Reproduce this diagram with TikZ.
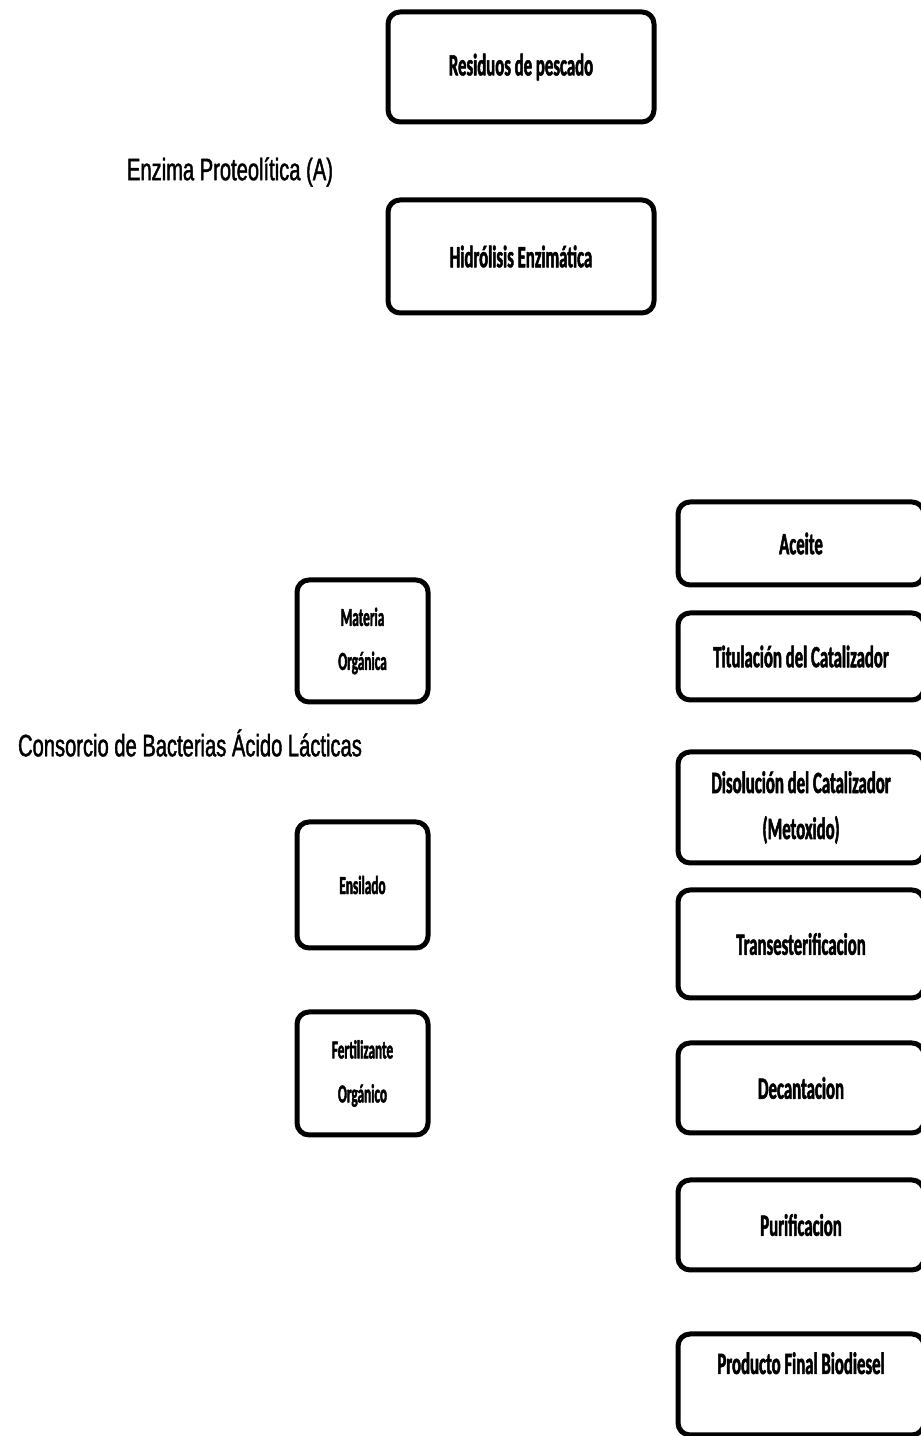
\documentclass[tikz,border=0pt]{standalone}
\usepackage{fontspec}
\usepackage{tikz}
\usetikzlibrary{positioning}

\newfontfamily\boxfont[FakeStretch=0.54,FakeBold=1.6]{Carlito}
\newfontfamily\smallboxfont[FakeStretch=0.51,FakeBold=1.6]{Carlito}
\newfontfamily\labelfont[FakeStretch=0.65,FakeBold=1.4]{Liberation Sans}

\tikzset{
  caja/.style={draw=black,line width=5bp,rounded corners=12bp,inner sep=0pt,
    align=center,font=\boxfont\bfseries\fontsize{31bp}{46bp}\selectfont},
  cajita/.style={caja,font=\smallboxfont\bfseries\fontsize{26bp}{44bp}\selectfont},
  nota/.style={inner sep=0pt,font=\labelfont\fontsize{31bp}{36bp}\selectfont},
}

\begin{document}
\begin{tikzpicture}[line join=round]
\clip (0bp,0bp) rectangle (921bp,1436bp);

% Node: residuos
\node[caja,minimum width=266bp,minimum height=110bp] (residuos) at (521bp,1369bp) {Residuos de pescado};

% Node: enzima
\node[nota] (enzima) at (230bp,1264bp) {Enzima Proteolítica (A)};

% Node: hidrolisis
\node[caja,minimum width=266bp,minimum height=113bp] (hidrolisis) at (521bp,1179.5bp) {Hidrólisis Enzimática};

% Node: materia
\node[cajita,minimum width=131bp,minimum height=122bp] (materia) at (362.5bp,795bp) {Materia\\Orgánica};

% Node: consorcio
\node[nota] (consorcio) at (190bp,693bp) {Consorcio de Bacterias Ácido Lácticas};

% Node: ensilado
\node[cajita,minimum width=131bp,minimum height=126bp] (ensilado) at (362.5bp,551bp) {Ensilado};

% Node: fertilizante
\node[cajita,minimum width=131bp,minimum height=123bp] (fertilizante) at (362.5bp,362.5bp) {Fertilizante\\Orgánico};

% Node: aceite
\node[caja,minimum width=246bp,minimum height=83bp] (aceite) at (801bp,892.5bp) {Aceite};

% Node: titulacion
\node[caja,minimum width=246bp,minimum height=87bp] (titulacion) at (801bp,779.5bp) {Titulación del Catalizador};

% Node: disolucion
\node[caja,minimum width=246bp,minimum height=111bp] (disolucion) at (801bp,628.5bp) {Disolución del Catalizador\\(Metoxido)};

% Node: transesterificacion
\node[caja,minimum width=246bp,minimum height=108bp] (trans) at (801bp,492bp) {Transesterificacion};

% Node: decantacion
\node[caja,minimum width=246bp,minimum height=90bp] (decantacion) at (801bp,348bp) {Decantacion};

% Node: purificacion
\node[caja,minimum width=246bp,minimum height=90bp] (purificacion) at (801bp,211bp) {Purificacion};

% Node: producto
\node[caja,minimum width=246bp,minimum height=101bp,text height=22bp,text depth=43bp] (producto) at (801bp,51.5bp) {Producto Final Biodiesel};
%
\end{tikzpicture}
\end{document}
